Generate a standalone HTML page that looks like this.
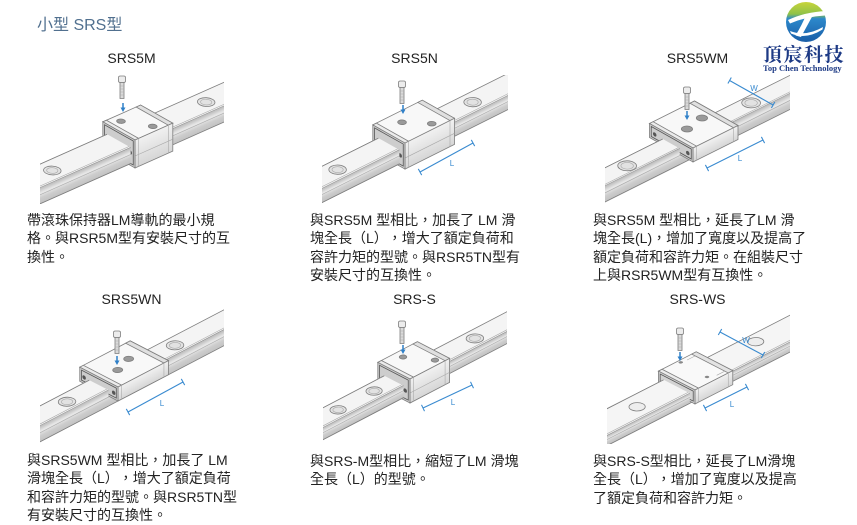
<!DOCTYPE html>
<html><head><meta charset="utf-8">
<style>
html,body{margin:0;padding:0;}
body{width:857px;height:522px;background:#fff;position:relative;overflow:hidden;font-family:"Liberation Sans","Noto Sans CJK TC",sans-serif;text-spacing-trim:space-all;}
svg{position:absolute;left:0;top:0;}
svg *{vector-effect:non-scaling-stroke;}
.e{stroke:#7e7e7e;stroke-width:0.8;}
.f{stroke:#a9a9a9;stroke-width:0.6;fill:none;}
.g{stroke:#555;stroke-width:0.8;fill:none;}
.title{position:absolute;left:37px;top:16px;font-size:16px;line-height:20px;color:#51708f;white-space:nowrap;}
.cap{position:absolute;width:200px;text-align:center;font-size:14px;line-height:16px;color:#222;white-space:nowrap;}
.d{position:absolute;font-size:14px;line-height:18.4px;color:#222;white-space:nowrap;text-spacing-trim:space-all;font-feature-settings:normal;}
</style></head><body>
<svg width="857" height="522" viewBox="0 0 857 522" xmlns="http://www.w3.org/2000/svg">
<defs>
<clipPath id="k1"><rect x="40" y="75" width="184" height="129"/></clipPath>
<clipPath id="k2"><rect x="322" y="75" width="186" height="129"/></clipPath>
<clipPath id="k3"><rect x="605" y="75" width="185" height="129"/></clipPath>
<clipPath id="k4"><rect x="40" y="306" width="184" height="138"/></clipPath>
<clipPath id="k5"><rect x="323" y="311" width="184" height="133"/></clipPath>
<clipPath id="k6"><rect x="607" y="306" width="183" height="138"/></clipPath>
<linearGradient id="rs" x1="0" y1="0" x2="0" y2="1">
<stop offset="0" stop-color="#b9b9b9"/><stop offset="0.35" stop-color="#e9e9e9"/><stop offset="0.65" stop-color="#cdcdcd"/><stop offset="1" stop-color="#c2c2c2"/>
</linearGradient>
<linearGradient id="bs" x1="0" y1="0" x2="0" y2="1">
<stop offset="0" stop-color="#f1f1f1"/><stop offset="1" stop-color="#d6d6d6"/>
</linearGradient>
<linearGradient id="lg" x1="0" y1="0" x2="0" y2="1">
<stop offset="0" stop-color="#c8d43a"/><stop offset="0.3" stop-color="#8fc249"/><stop offset="0.42" stop-color="#2c88cb"/><stop offset="1" stop-color="#1a5ea7"/>
</linearGradient>
<g id="sc">
<rect x="-3.5" y="0" width="7" height="6.5" rx="1.6" fill="#ececec" class="e"/>
<rect x="-2" y="6.5" width="4" height="16" fill="#dadada" class="e"/>
<path d="M-2 10h4M-2 13h4M-2 16h4M-2 19h4" class="f"/>
</g>
<g id="ar">
<path d="M0 0V5" stroke="#2f80c8" stroke-width="1.5"/>
<path d="M-2.5 4.5L0 9L2.5 4.5Z" fill="#2f80c8"/>
</g>
</defs>

<!-- ============ IMAGE 1 SRS5M ============ -->
<g clip-path="url(#k1)">
<g transform="matrix(0.9,-0.4,-0.87,-0.49,118.9,140.9)">
<rect x="-260" y="-13.5" width="520" height="27" fill="#f4f4f4"/>
<path d="M-260 13.5H260M-260 -13.5H260" class="e"/><path d="M-260 -11.5H260" class="f"/>
<circle cx="97" cy="0" r="7" fill="#e2e2e2" class="e"/><circle cx="97" cy="0" r="4.5" fill="#f7f7f7" class="f"/>
</g>
<g transform="matrix(0.9,-0.4,0,1,130.65,147.52)">
<rect x="-260" y="0" width="520" height="16" fill="url(#rs)"/>
<path d="M-260 16H260" class="e"/><path d="M-260 7H260" class="f"/>
</g>
<g transform="matrix(0.9,-0.4,-0.87,-0.49,118.9,130.9)">
<rect x="0" y="-18.5" width="42" height="37" fill="#f8f8f8" class="e"/>
<rect x="0" y="-18.5" width="4" height="37" fill="#ebebeb" class="e"/>
<rect x="37" y="-18.5" width="5" height="37" fill="#e0e0e0" class="e"/>
<circle cx="12" cy="10" r="3.5" fill="#9a9a9a" class="e"/>
<circle cx="26" cy="-12" r="3.5" fill="#9a9a9a" class="e"/>
</g>
<g transform="matrix(0.9,-0.4,0,1,135,149.97)">
<rect x="0" y="-10" width="42" height="28" fill="url(#bs)" class="e"/>
<path d="M4 -10V18M37 -10V18M0 6H42" class="f"/>
</g>
<g transform="matrix(-0.87,-0.49,0,1,118.9,140.9)">
<rect x="-18.5" y="-10" width="37" height="28" fill="#cdcdcd" class="e"/>
<rect x="-16.5" y="-8" width="33" height="24" fill="#bdbdbd" class="g"/>
<circle cx="-13" cy="5" r="2" fill="#555"/><circle cx="13" cy="5" r="2" fill="#555"/>
</g>
<g transform="matrix(0.9,-0.4,-0.87,-0.49,118.9,140.9)">
<rect x="-260" y="-13.5" width="260" height="27" fill="#f4f4f4"/>
<path d="M-260 13.5H0M-260 -13.5H0" class="e"/><path d="M-260 -11.5H0" class="f"/>
<circle cx="-74" cy="0" r="7" fill="#e2e2e2" class="e"/><circle cx="-74" cy="0" r="4.5" fill="#f7f7f7" class="f"/>
</g>
<g transform="matrix(0.9,-0.4,0,1,130.65,147.52)">
<rect x="-260" y="0" width="260" height="16" fill="url(#rs)"/>
<path d="M-260 16H0" class="e"/><path d="M-260 7H0" class="f"/>
</g>
</g>
<use href="#sc" x="122" y="76"/><use href="#ar" x="123" y="103"/>

<!-- ============ IMAGE 2 SRS5N ============ -->
<g clip-path="url(#k2)">
<g transform="matrix(0.9,-0.45,-0.87,-0.49,388.9,144)">
<rect x="-260" y="-12" width="520" height="24" fill="#f4f4f4"/>
<path d="M-260 12H260M-260 -12H260" class="e"/><path d="M-260 -10H260" class="f"/>
<circle cx="93" cy="0" r="7" fill="#e2e2e2" class="e"/><circle cx="93" cy="0" r="4.5" fill="#f7f7f7" class="f"/>
</g>
<g transform="matrix(0.9,-0.45,0,1,399.34,149.88)">
<rect x="-260" y="0" width="520" height="14" fill="url(#rs)"/>
<path d="M-260 14H260" class="e"/><path d="M-260 6H260" class="f"/>
</g>
<g transform="matrix(0.9,-0.45,-0.87,-0.49,388.9,134)">
<rect x="0" y="-18.5" width="55" height="37" fill="#f8f8f8" class="e"/>
<rect x="0" y="-18.5" width="4" height="37" fill="#ebebeb" class="e"/>
<rect x="50" y="-18.5" width="5" height="37" fill="#e0e0e0" class="e"/>
<circle cx="20" cy="5.6" r="3.5" fill="#9a9a9a" class="e"/>
<circle cx="36" cy="-12" r="3.5" fill="#9a9a9a" class="e"/>
</g>
<g transform="matrix(0.9,-0.45,0,1,405,153.07)">
<rect x="0" y="-10" width="55" height="26" fill="url(#bs)" class="e"/>
<path d="M4 -10V16M50 -10V16M0 5H55" class="f"/>
</g>
<g transform="matrix(-0.87,-0.49,0,1,388.9,144)">
<rect x="-18.5" y="-10" width="37" height="26" fill="#cdcdcd" class="e"/>
<rect x="-16.5" y="-8" width="33" height="22" fill="#bdbdbd" class="g"/>
<circle cx="-13" cy="5" r="2" fill="#555"/><circle cx="13" cy="5" r="2" fill="#555"/>
</g>
<g transform="matrix(0.9,-0.45,-0.87,-0.49,388.9,144)">
<rect x="-260" y="-12" width="260" height="24" fill="#f4f4f4"/>
<path d="M-260 12H0M-260 -12H0" class="e"/><path d="M-260 -10H0" class="f"/>
<circle cx="-57" cy="0" r="7" fill="#e2e2e2" class="e"/><circle cx="-57" cy="0" r="4.5" fill="#f7f7f7" class="f"/>
</g>
<g transform="matrix(0.9,-0.45,0,1,399.34,149.88)">
<rect x="-260" y="0" width="260" height="14" fill="url(#rs)"/>
<path d="M-260 14H0" class="e"/><path d="M-260 6H0" class="f"/>
</g>
<path d="M420 172L473 143M418.3 168.9L421.7 175.1M471.3 139.9L474.7 146.1" stroke="#3a8bd0" stroke-width="1.1" fill="none"/>
<text x="452" y="166" font-size="8" fill="#3a8bd0" text-anchor="middle" font-family="Liberation Sans, sans-serif">L</text>
</g>
<use href="#sc" x="402" y="81"/><use href="#ar" x="403" y="105"/>

<!-- ============ IMAGE 3 SRS5WM ============ -->
<g clip-path="url(#k3)">
<g transform="matrix(0.9,-0.45,-0.87,-0.49,671.25,143.75)">
<rect x="-260" y="-9.75" width="520" height="19.5" fill="#f4f4f4"/>
<path d="M-260 9.75H260M-260 -9.75H260" class="e"/><path d="M-260 -8H260" class="f"/>
<circle cx="89.7" cy="1" r="7.5" fill="#e2e2e2" class="e"/><circle cx="89.7" cy="1" r="5" fill="#f7f7f7" class="f"/>
</g>
<g transform="matrix(0.9,-0.45,0,1,679.73,148.53)">
<rect x="-260" y="0" width="520" height="16" fill="url(#rs)"/>
<path d="M-260 16H260" class="e"/><path d="M-260 7H260" class="f"/>
</g>
<g transform="matrix(0.9,-0.45,-0.87,-0.49,671.25,135.75)">
<rect x="0" y="-25" width="50" height="50" fill="#f8f8f8" class="e"/>
<rect x="0" y="-25" width="4" height="50" fill="#ebebeb" class="e"/>
<rect x="45" y="-25" width="5" height="50" fill="#e0e0e0" class="e"/>
<circle cx="36.6" cy="2.6" r="4.5" fill="#9a9a9a" class="e"/>
<circle cx="16.3" cy="-1.2" r="4.5" fill="#9a9a9a" class="e"/>
</g>
<g transform="matrix(0.9,-0.45,0,1,693,156)">
<rect x="0" y="-8" width="50" height="14" fill="url(#bs)" class="e"/>
<path d="M4 -8V6M45 -8V6" class="f"/>
</g>
<g transform="matrix(-0.87,-0.49,0,1,671.25,143.75)">
<rect x="-25" y="-8" width="50" height="14" fill="#cdcdcd" class="e"/>
<rect x="-23" y="-6" width="46" height="10" fill="#bdbdbd" class="g"/>
<circle cx="-19" cy="0" r="2" fill="#555"/><circle cx="19" cy="0" r="2" fill="#555"/>
</g>
<g transform="matrix(0.9,-0.45,-0.87,-0.49,671.25,143.75)">
<rect x="-260" y="-9.75" width="260" height="19.5" fill="#f4f4f4"/>
<path d="M-260 9.75H0M-260 -9.75H0" class="e"/><path d="M-260 -8H0" class="f"/>
<circle cx="-49" cy="0" r="7.5" fill="#e2e2e2" class="e"/><circle cx="-49" cy="0" r="5" fill="#f7f7f7" class="f"/>
</g>
<g transform="matrix(0.9,-0.45,0,1,679.73,148.53)">
<rect x="-260" y="0" width="260" height="16" fill="url(#rs)"/>
<path d="M-260 16H0" class="e"/><path d="M-260 7H0" class="f"/>
</g>
<path d="M729.6 80.5L773.1 105M731.3 77.5L727.9 83.5M774.8 102L771.4 108" stroke="#3a8bd0" stroke-width="1.1" fill="none"/>
<text x="754" y="91" font-size="8" fill="#3a8bd0" text-anchor="middle" font-family="Liberation Sans, sans-serif">W</text>
<path d="M707 168L763 140M705.4 164.9L708.6 171.1M761.4 136.9L764.6 143.1" stroke="#3a8bd0" stroke-width="1.1" fill="none"/>
<text x="740" y="161" font-size="8" fill="#3a8bd0" text-anchor="middle" font-family="Liberation Sans, sans-serif">L</text>
</g>
<use href="#sc" x="687" y="87"/><use href="#ar" x="687" y="111"/>

<!-- ============ IMAGE 4 SRS5WN ============ -->
<g clip-path="url(#k4)">
<g transform="matrix(0.9,-0.47,-0.87,-0.45,98.9,385.1)">
<rect x="-260" y="-11" width="520" height="22" fill="#f4f4f4"/>
<path d="M-260 11H260M-260 -11H260" class="e"/><path d="M-260 -9H260" class="f"/>
<circle cx="84.6" cy="0" r="7" fill="#e2e2e2" class="e"/><circle cx="84.6" cy="0" r="4.5" fill="#f7f7f7" class="f"/>
</g>
<g transform="matrix(0.9,-0.47,0,1,108.47,390.05)">
<rect x="-260" y="0" width="520" height="16" fill="url(#rs)"/>
<path d="M-260 16H260" class="e"/><path d="M-260 7H260" class="f"/>
</g>
<g transform="matrix(0.9,-0.47,-0.87,-0.45,98.9,377.1)">
<rect x="0" y="-22" width="56" height="44" fill="#f8f8f8" class="e"/>
<rect x="0" y="-22" width="4" height="44" fill="#ebebeb" class="e"/>
<rect x="51" y="-22" width="5" height="44" fill="#e0e0e0" class="e"/>
<circle cx="36" cy="3" r="4" fill="#9a9a9a" class="e"/>
<circle cx="18" cy="-3" r="4" fill="#9a9a9a" class="e"/>
</g>
<g transform="matrix(0.9,-0.47,0,1,118.04,395)">
<rect x="0" y="-8" width="56" height="14" fill="url(#bs)" class="e"/>
<path d="M4 -8V6M51 -8V6" class="f"/>
</g>
<g transform="matrix(-0.87,-0.45,0,1,98.9,385.1)">
<rect x="-22" y="-8" width="44" height="14" fill="#cdcdcd" class="e"/>
<rect x="-20" y="-6" width="40" height="10" fill="#bdbdbd" class="g"/>
<circle cx="-17" cy="0" r="2" fill="#555"/><circle cx="17" cy="0" r="2" fill="#555"/>
</g>
<g transform="matrix(0.9,-0.47,-0.87,-0.45,98.9,385.1)">
<rect x="-260" y="-11" width="260" height="22" fill="#f4f4f4"/>
<path d="M-260 11H0M-260 -11H0" class="e"/><path d="M-260 -9H0" class="f"/>
<circle cx="-35.4" cy="0" r="7" fill="#e2e2e2" class="e"/><circle cx="-35.4" cy="0" r="4.5" fill="#f7f7f7" class="f"/>
</g>
<g transform="matrix(0.9,-0.47,0,1,108.47,390.05)">
<rect x="-260" y="0" width="260" height="16" fill="url(#rs)"/>
<path d="M-260 16H0" class="e"/><path d="M-260 7H0" class="f"/>
</g>
<path d="M128 412L183 382M126.3 408.9L129.7 415.1M181.3 378.9L184.7 385.1" stroke="#3a8bd0" stroke-width="1.1" fill="none"/>
<text x="162" y="406" font-size="8" fill="#3a8bd0" text-anchor="middle" font-family="Liberation Sans, sans-serif">L</text>
</g>
<use href="#sc" x="117" y="331"/><use href="#ar" x="117" y="356"/>

<!-- ============ IMAGE 5 SRS-S ============ -->
<g clip-path="url(#k5)">
<g transform="matrix(0.9,-0.47,-0.87,-0.45,393.9,380.7)">
<rect x="-260" y="-11" width="520" height="22" fill="#f4f4f4"/>
<path d="M-260 11H260M-260 -11H260" class="e"/><path d="M-260 -9H260" class="f"/>
<circle cx="90" cy="0" r="7" fill="#e2e2e2" class="e"/><circle cx="90" cy="0" r="4.5" fill="#f7f7f7" class="f"/>
</g>
<g transform="matrix(0.9,-0.47,0,1,403.47,385.65)">
<rect x="-260" y="0" width="520" height="12" fill="url(#rs)"/>
<path d="M-260 12H260" class="e"/><path d="M-260 5H260" class="f"/>
</g>
<g transform="matrix(0.9,-0.47,-0.87,-0.45,393.9,370.7)">
<rect x="0" y="-18.5" width="44" height="37" fill="#f8f8f8" class="e"/>
<rect x="0" y="-18.5" width="4" height="37" fill="#ebebeb" class="e"/>
<rect x="39" y="-18.5" width="5" height="37" fill="#e0e0e0" class="e"/>
<circle cx="19.7" cy="9.9" r="3" fill="#9a9a9a" class="e"/>
<circle cx="34" cy="-12" r="3" fill="#9a9a9a" class="e"/>
</g>
<g transform="matrix(0.9,-0.47,0,1,410,389.03)">
<rect x="0" y="-10" width="44" height="24" fill="url(#bs)" class="e"/>
<path d="M4 -10V14M39 -10V14M0 4H44" class="f"/>
</g>
<g transform="matrix(-0.87,-0.45,0,1,393.9,380.7)">
<rect x="-18.5" y="-10" width="37" height="24" fill="#cdcdcd" class="e"/>
<rect x="-16.5" y="-8" width="33" height="20" fill="#bdbdbd" class="g"/>
<circle cx="-13" cy="4" r="2" fill="#555"/><circle cx="13" cy="4" r="2" fill="#555"/>
</g>
<g transform="matrix(0.9,-0.47,-0.87,-0.45,393.9,380.7)">
<rect x="-260" y="-11" width="260" height="22" fill="#f4f4f4"/>
<path d="M-260 11H0M-260 -11H0" class="e"/><path d="M-260 -9H0" class="f"/>
<circle cx="-22" cy="0" r="6.5" fill="#e2e2e2" class="e"/><circle cx="-22" cy="0" r="4.2" fill="#f7f7f7" class="f"/>
<circle cx="-62" cy="0" r="6.5" fill="#e2e2e2" class="e"/><circle cx="-62" cy="0" r="4.2" fill="#f7f7f7" class="f"/>
</g>
<g transform="matrix(0.9,-0.47,0,1,403.47,385.65)">
<rect x="-260" y="0" width="260" height="12" fill="url(#rs)"/>
<path d="M-260 12H0" class="e"/><path d="M-260 5H0" class="f"/>
</g>
<path d="M423 408L472 385M421.5 404.8L424.5 411.2M470.5 381.8L473.5 388.2" stroke="#3a8bd0" stroke-width="1.1" fill="none"/>
<text x="453" y="405" font-size="8" fill="#3a8bd0" text-anchor="middle" font-family="Liberation Sans, sans-serif">L</text>
</g>
<use href="#sc" x="402" y="321"/><use href="#ar" x="403" y="345"/>

<!-- ============ IMAGE 6 SRS-WS ============ -->
<g clip-path="url(#k6)">
<g transform="matrix(0.9,-0.46,-0.87,-0.45,676.7,386.55)">
<rect x="-260" y="-15" width="520" height="30" fill="#f5f5f5"/>
<path d="M-260 15H260M-260 -15H260" class="e"/><path d="M-260 -13H260" class="f"/>
<circle cx="92.6" cy="5" r="6.5" fill="#ededed" class="e"/>
</g>
<g transform="matrix(0.9,-0.46,0,1,689.75,393.3)">
<rect x="-260" y="0" width="520" height="10" fill="url(#rs)"/>
<path d="M-260 10H260" class="e"/><path d="M-260 4H260" class="f"/>
</g>
<g transform="matrix(0.9,-0.46,-0.87,-0.45,676.7,380.55)">
<rect x="0" y="-21" width="42" height="42" fill="#f9f9f9" class="e"/>
<rect x="0" y="-21" width="4" height="42" fill="#ececec" class="e"/>
<rect x="37" y="-21" width="5" height="42" fill="#e3e3e3" class="e"/>
<path d="M28 -17H37M28 17H37" class="f"/>
<circle cx="21.9" cy="18" r="1.8" fill="#888"/>
<circle cx="20.8" cy="-13.3" r="1.8" fill="#888"/>
</g>
<g transform="matrix(0.9,-0.46,0,1,694.97,396)">
<rect x="0" y="-6" width="42" height="14" fill="url(#bs)" class="e"/>
<path d="M4 -6V8M37 -6V8" class="f"/>
</g>
<g transform="matrix(-0.87,-0.45,0,1,676.7,386.55)">
<rect x="-21" y="-6" width="42" height="14" fill="#d3d3d3" class="e"/>
<rect x="-19" y="-4" width="38" height="10" fill="#c4c4c4" class="g"/>
</g>
<g transform="matrix(0.9,-0.46,-0.87,-0.45,676.7,386.55)">
<rect x="-260" y="-15" width="260" height="30" fill="#f5f5f5"/>
<path d="M-260 15H0M-260 -15H0" class="e"/><path d="M-260 -13H0" class="f"/>
<circle cx="-44" cy="0" r="6.5" fill="#ededed" class="e"/>
</g>
<g transform="matrix(0.9,-0.46,0,1,689.75,393.3)">
<rect x="-260" y="0" width="260" height="10" fill="url(#rs)"/>
<path d="M-260 10H0" class="e"/><path d="M-260 4H0" class="f"/>
</g>
<path d="M720 332L763 355M721.7 329L718.3 335M764.7 352L761.3 358" stroke="#3a8bd0" stroke-width="1.1" fill="none"/>
<text x="746" y="343" font-size="8" fill="#3a8bd0" text-anchor="middle" font-family="Liberation Sans, sans-serif">W</text>
<path d="M705 408L747 387M703.4 404.9L706.6 411.1M745.4 383.9L748.6 390.1" stroke="#3a8bd0" stroke-width="1.1" fill="none"/>
<text x="732" y="407" font-size="8" fill="#3a8bd0" text-anchor="middle" font-family="Liberation Sans, sans-serif">L</text>
</g>
<use href="#sc" x="680" y="328"/><use href="#ar" x="680" y="352"/>

<!-- ============ LOGO ============ -->
<circle cx="806" cy="22" r="20" fill="url(#lg)"/>
<path d="M788 20 Q805 12 826 11 L825 15.5 Q806 16.5 790 23.5 Z" fill="#fff"/>
<path d="M806 15 L813.5 14 Q807 26 801 37 L795.5 35.5 Q802 25 806 15 Z" fill="#fff"/>
<path d="M790 31 Q806 37 823 27 L822.5 29.5 Q806 40 791 33.5 Z" fill="#fff"/>
<text x="763" y="61" font-family="Noto Serif CJK SC, serif" font-weight="bold" font-size="19" letter-spacing="1.5" fill="#1d3a85">頂宸科技</text>
<text x="763" y="71" font-family="Liberation Serif, serif" font-weight="bold" font-size="8.5" fill="#1d3a85">Top Chen Technology</text>
</svg>

<div class="title">小型 SRS型</div>

<div class="cap" style="left:31.5px;top:50px;">SRS5M</div>
<div class="cap" style="left:314.5px;top:50px;">SRS5N</div>
<div class="cap" style="left:597.5px;top:50px;">SRS5WM</div>
<div class="cap" style="left:31.5px;top:291px;">SRS5WN</div>
<div class="cap" style="left:314.5px;top:291px;">SRS-S</div>
<div class="cap" style="left:597.5px;top:291px;">SRS-WS</div>

<div class="d" style="left:27px;top:211px;">帶滾珠保持器LM導軌的最小規<br>格。與RSR5M型有安裝尺寸的互<br>換性。</div>
<div class="d" style="left:310px;top:211px;">與SRS5M 型相比，加長了 LM 滑<br>塊全長（L），增大了額定負荷和<br>容許力矩的型號。與RSR5TN型有<br>安裝尺寸的互換性。</div>
<div class="d" style="left:593px;top:211px;">與SRS5M 型相比，延長了LM 滑<br>塊全長(L)，增加了寬度以及提高了<br>額定負荷和容許力矩。在組裝尺寸<br>上與RSR5WM型有互換性。</div>
<div class="d" style="left:27px;top:451px;">與SRS5WM 型相比，加長了 LM<br>滑塊全長（L），增大了額定負荷<br>和容許力矩的型號。與RSR5TN型<br>有安裝尺寸的互換性。</div>
<div class="d" style="left:310px;top:452px;">與SRS-M型相比，縮短了LM 滑塊<br>全長（L）的型號。</div>
<div class="d" style="left:593px;top:452px;">與SRS-S型相比，延長了LM滑塊<br>全長（L），增加了寬度以及提高<br>了額定負荷和容許力矩。</div>
</body></html>
